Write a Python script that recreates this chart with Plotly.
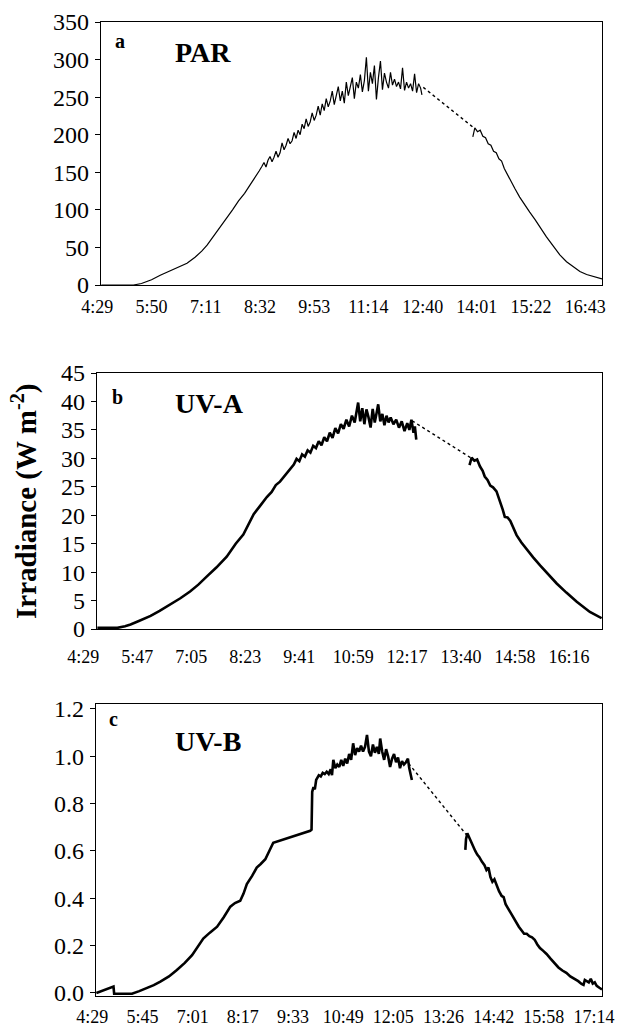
import plotly.graph_objects as go

# ---------------- DATA ----------------
# x = sample number along the Excel-style category axis; labels every N samples
par_labels = ["4:29", "5:50", "7:11", "8:32", "9:53", "11:14", "12:40", "14:01", "15:22", "16:43"]
par_step = 81
par_am_x = [0, 48, 60, 75, 88, 100, 115, 128, 140, 150, 158, 168, 178, 188, 196, 205, 214, 222, 230, 236,
            240, 243, 246, 249, 252, 255, 258, 261, 264, 267, 270, 273, 276, 279, 282, 285, 288, 291, 294, 297,
            300, 303, 306, 309, 312, 315, 318, 321, 324, 327, 330, 333, 336, 339, 342, 345, 348, 351, 354, 357,
            360, 363, 366, 369, 372, 375, 378, 381, 384, 387, 390, 393, 396, 399, 402, 405, 408, 411, 414, 417,
            420, 423, 426, 429, 432, 435, 438, 441, 444, 447, 450, 453, 456, 459, 462, 465, 468, 471, 474, 477, 479]
par_am_y = [0, 0, 2, 7, 13, 18, 24, 29, 37, 45, 53, 65, 77, 90, 100, 112, 122, 133, 143, 152,
            158, 163, 157, 166, 171, 164, 170, 178, 170, 176, 189, 180, 186, 195, 188, 192, 203, 195, 206, 200,
            214, 208, 221, 211, 217, 229, 219, 226, 238, 226, 241, 232, 248, 237, 245, 258, 240, 252, 264, 245,
            258, 242, 270, 252, 264, 276, 248, 270, 262, 280, 257, 272, 303, 258, 283, 268, 292, 247, 276, 298,
            260, 282, 270, 262, 283, 266, 274, 264, 270, 261, 289, 259, 270, 262, 268, 258, 281, 256, 268, 262, 253]
par_pm_x = [555, 558, 562, 566, 570, 574, 578, 582, 586, 590, 594, 598, 602, 606, 612, 618, 625, 632, 640,
            648, 656, 665, 675, 685, 695, 705, 715, 725, 735, 748]
par_pm_y = [197, 209, 204, 206, 198, 196, 188, 186, 178, 176, 168, 165, 155, 148, 137, 128, 117, 107, 97,
            87, 76, 64, 52, 40, 31, 24, 18, 14, 11, 8]
par_gap_x = [481, 558]
par_gap_y = [263, 208]

uva_labels = ["4:29", "5:47", "7:05", "8:23", "9:41", "10:59", "12:17", "13:40", "14:58", "16:16"]
uva_step = 78
uva_am_x = [0, 29, 40, 48, 60, 77, 90, 105, 120, 134, 146, 158, 172, 187, 200, 211, 218, 226, 235, 245,
            252, 258, 264, 269, 274, 279, 284, 288, 292, 296, 300, 304, 308, 312, 316, 320, 324, 328, 332, 336,
            340, 344, 348, 352, 356, 360, 364, 368, 372, 375, 377, 380, 383, 386, 389, 392, 395, 398, 401, 404,
            406, 409, 412, 415, 418, 421, 424, 428, 432, 436, 440, 444, 448, 451, 454, 457, 459, 461]
uva_am_y = [0.2, 0.2, 0.5, 0.8, 1.4, 2.3, 3.2, 4.3, 5.4, 6.6, 7.8, 9.2, 10.8, 12.7, 15.0, 16.6, 18.2, 20.2, 21.6, 23.2,
            24.1, 25.3, 25.9, 26.6, 27.3, 28.1, 28.9, 29.9, 29.5, 30.7, 30.3, 31.4, 31.0, 32.2, 31.8, 33.0, 32.3, 33.7, 33.0, 34.5,
            33.6, 35.3, 34.4, 36.0, 35.2, 36.8, 35.6, 37.5, 36.3, 38.4, 39.8, 36.5, 38.8, 36.0, 38.6, 37.2, 35.4, 38.7, 36.3, 38.2,
            39.5, 36.5, 37.8, 35.8, 37.5, 36.3, 37.2, 36.0, 36.8, 35.4, 36.5, 34.8, 36.2, 35.0, 36.8, 34.5, 35.6, 33.3]
uva_pm_x = [538, 541, 545, 549, 553, 557, 560, 564, 568, 572, 577, 582, 586, 589, 593, 597, 602, 606, 613,
            621, 630, 640, 652, 664, 678, 693, 712, 729]
uva_pm_y = [28.8, 30.1, 29.6, 29.8, 28.6, 27.8, 26.8, 26.2, 25.2, 24.9, 24.2, 22.6, 21.0, 19.7, 19.6, 19.0, 17.5, 16.5, 15.2,
            13.9, 12.6, 11.2, 9.6, 8.0, 6.4, 4.8, 3.0, 1.9]
uva_gap_x = [455, 541]
uva_gap_y = [36.6, 30.0]

uvb_labels = ["4:29", "5:45", "7:01", "8:17", "9:33", "10:49", "12:05", "13:26", "14:42", "15:58", "17:14"]
uvb_step = 76
uvb_am_x = [0, 26, 27, 54, 65, 77, 87, 97, 110, 122, 134, 145, 154, 162, 172, 183, 193, 203, 210, 218,
            223, 228, 236, 243, 249, 256, 262, 268, 324, 326, 327, 329, 331, 333, 335, 337, 340, 343, 346, 349,
            352, 355, 357, 359, 362, 365, 368, 371, 374, 377, 380, 383, 386, 389, 392, 395, 398, 401, 404, 407,
            410, 413, 416, 419, 422, 425, 428, 430, 433, 436, 439, 442, 445, 448, 451, 454, 457, 460, 463, 466,
            469, 472, 474, 476, 478]
uvb_am_y = [0.0, 0.027, -0.003, -0.003, 0.008, 0.02, 0.033, 0.048, 0.07, 0.097, 0.127, 0.16, 0.195, 0.23, 0.255, 0.28, 0.32, 0.365, 0.38, 0.39,
            0.42, 0.46, 0.495, 0.53, 0.545, 0.565, 0.60, 0.635, 0.685, 0.69, 0.85, 0.87, 0.86, 0.90, 0.91, 0.92, 0.915, 0.93, 0.925, 0.935,
            0.925, 0.945, 0.92, 0.985, 0.95, 0.965, 0.955, 0.985, 0.96, 0.99, 0.97, 1.01, 0.985, 1.055, 1.005, 1.035, 1.02, 1.045, 1.02, 1.04,
            1.09, 1.02, 1.0, 1.05, 1.015, 1.04, 1.01, 1.075, 1.02, 0.985, 1.03, 1.0, 0.955, 0.99, 1.01, 0.975, 0.995, 0.95, 0.98, 0.965,
            0.975, 0.99, 0.95, 0.92, 0.90]
uvb_pm_x = [559, 560, 562, 565, 568, 571, 574, 577, 580, 584, 588, 591, 594, 597, 600, 603, 606, 610, 614, 617,
            620, 624, 628, 632, 636, 640, 644, 648, 652, 656, 660, 664, 668, 672, 677, 682, 688, 694, 700, 706,
            712, 718, 724, 730, 735, 738, 740, 743, 746, 749, 752, 755, 758, 762, 766]
uvb_pm_y = [0.605, 0.65, 0.675, 0.655, 0.64, 0.62, 0.60, 0.585, 0.575, 0.555, 0.54, 0.52, 0.53, 0.49, 0.47, 0.48, 0.455, 0.43, 0.41, 0.405,
            0.375, 0.355, 0.34, 0.32, 0.30, 0.28, 0.265, 0.25, 0.25, 0.24, 0.235, 0.225, 0.205, 0.19, 0.178, 0.165, 0.145, 0.125, 0.108, 0.095,
            0.085, 0.07, 0.06, 0.05, 0.038, 0.034, 0.055, 0.05, 0.045, 0.06, 0.04, 0.045, 0.03, 0.022, 0.015]
uvb_gap_x = [473, 561]
uvb_gap_y = [0.97, 0.667]

# ---------------- LAYOUT ----------------
W, H = 617, 1026
FONT = "Liberation Serif, Times New Roman, serif"

panels = [
    dict(key="a", name="PAR", px=(101, 602, 22, 285), xr=[-0.5, 748], yr=[0, 350], dtick=50, fmt="d",
         labels=par_labels, step=par_step, shift=-4, standoff=5, lw=1.2,
         am=(par_am_x, par_am_y), pm=(par_pm_x, par_pm_y), gap=(par_gap_x, par_gap_y),
         lab_pos=(120, 41), name_pos=(203, 52)),
    dict(key="b", name="UV-A", px=(97, 602, 373, 629), xr=[-0.5, 729.5], yr=[0, 45], dtick=5, fmt="d",
         labels=uva_labels, step=uva_step, shift=-14, standoff=11, lw=2.6,
         am=(uva_am_x, uva_am_y), pm=(uva_pm_x, uva_pm_y), gap=(uva_gap_x, uva_gap_y),
         lab_pos=(117, 397), name_pos=(209, 403)),
    dict(key="c", name="UV-B", px=(96, 602, 704, 996), xr=[-0.5, 766], yr=[-0.0127, 1.221], dtick=0.2, fmt=".1f",
         labels=uvb_labels, step=uvb_step, shift=-4, standoff=4, lw=2.6,
         am=(uvb_am_x, uvb_am_y), pm=(uvb_pm_x, uvb_pm_y), gap=(uvb_gap_x, uvb_gap_y),
         lab_pos=(113, 719), name_pos=(208, 741)),
]

fig = go.Figure()
annotations = []
for i, p in enumerate(panels, start=1):
    xa = "x" if i == 1 else f"x{i}"
    ya = "y" if i == 1 else f"y{i}"
    xs = list(p["am"][0]) + [None] + list(p["pm"][0])
    ys = list(p["am"][1]) + [None] + list(p["pm"][1])
    fig.add_trace(go.Scatter(x=xs, y=ys, mode="lines", xaxis=xa, yaxis=ya,
                             line=dict(color="black", width=p["lw"]), connectgaps=False,
                             hoverinfo="skip"))
    fig.add_trace(go.Scatter(x=p["gap"][0], y=p["gap"][1], mode="lines", xaxis=xa, yaxis=ya,
                             line=dict(color="black", width=1.4, dash="dot"), hoverinfo="skip"))
    l, r, t, b = p["px"]
    xkey = "xaxis" if i == 1 else f"xaxis{i}"
    ykey = "yaxis" if i == 1 else f"yaxis{i}"
    tickvals = [k * p["step"] for k in range(len(p["labels"]))]
    fig.update_layout(**{
        xkey: dict(domain=[l / W, r / W], anchor=ya, range=p["xr"], tickmode="array",
                   tickvals=tickvals, ticktext=p["labels"], ticks="", showgrid=False, zeroline=False,
                   showline=True, mirror=True, linecolor="black", linewidth=1.2,
                   tickfont=dict(family=FONT, size=18, color="black"),
                   ticklabelshift=p["shift"], ticklabelstandoff=p["standoff"], automargin=False),
        ykey: dict(domain=[1 - b / H, 1 - t / H], anchor=xa, range=p["yr"], tick0=0, dtick=p["dtick"],
                   tickformat=p["fmt"], ticks="outside", ticklen=5, tickwidth=1, tickcolor="black",
                   showgrid=False, zeroline=False, showline=True, mirror=True, linecolor="black",
                   linewidth=1.2, tickfont=dict(family=FONT, size=24, color="black"),
                   ticklabelstandoff=1, automargin=False),
    })
    annotations.append(dict(text=f"<b>{p['key']}</b>", x=p["lab_pos"][0] / W, y=1 - p["lab_pos"][1] / H,
                            xref="paper", yref="paper", showarrow=False, xanchor="center", yanchor="middle",
                            font=dict(family=FONT, size=20, color="black")))
    annotations.append(dict(text=f"<b>{p['name']}</b>", x=p["name_pos"][0] / W, y=1 - p["name_pos"][1] / H,
                            xref="paper", yref="paper", showarrow=False, xanchor="center", yanchor="middle",
                            font=dict(family=FONT, size=28, color="black")))

annotations.append(dict(text="<b>Irradiance (W m<sup>-2</sup>)</b>", x=25 / W, y=1 - 502 / H,
                        xref="paper", yref="paper", showarrow=False, textangle=-90,
                        xanchor="center", yanchor="middle",
                        font=dict(family=FONT, size=29, color="black")))

fig.update_layout(width=W, height=H, margin=dict(l=0, r=0, t=0, b=0),
                  paper_bgcolor="white", plot_bgcolor="white", showlegend=False,
                  annotations=annotations)

fig.write_html("out.html")
